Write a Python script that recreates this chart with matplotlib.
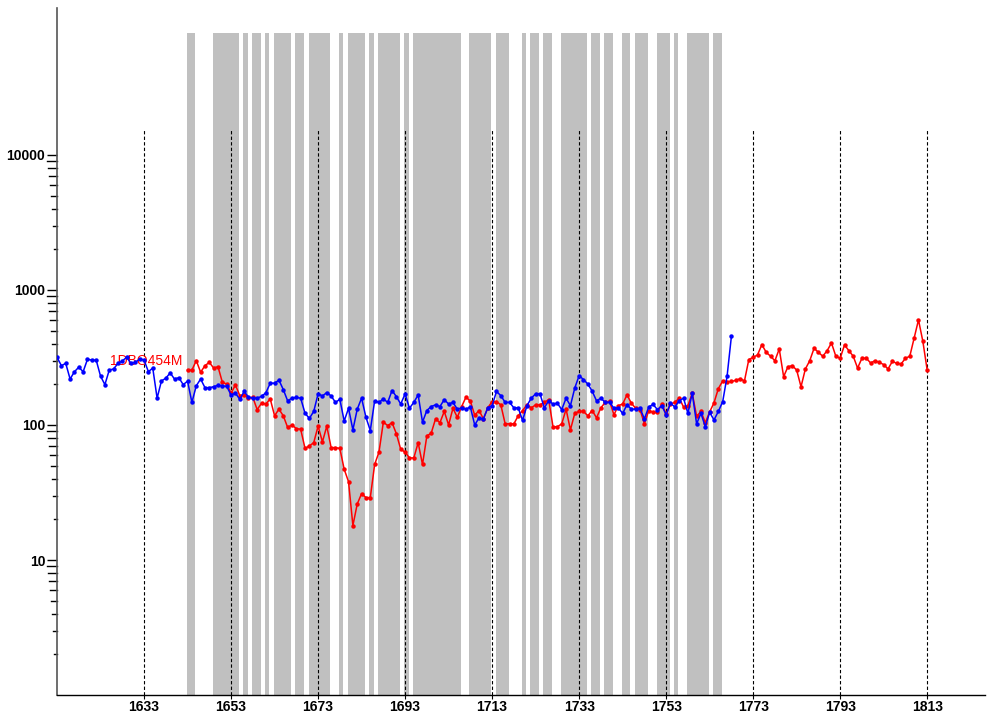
import numpy as np
import matplotlib
matplotlib.use("Agg")
import matplotlib.pyplot as plt

plt.rcParams['font.family'] = ['Liberation Sans', 'DejaVu Sans']

# blue series, one value per year from 1613
blue_start = 1613
blue_vals = [317, 275, 286, 219, 248, 268, 248, 307, 302, 302,
             230, 199, 255, 260, 286, 298, 317, 286, 291, 308,
             303, 248, 264, 158, 212, 222, 243, 219, 224, 199,
             211, 147, 195, 219, 189, 189, 192, 197, 195, 193,
             167, 172, 155, 177, 161, 158, 158, 163, 173, 204,
             204, 215, 183, 151, 158, 160, 158, 122, 112, 126,
             170, 164, 174, 164, 147, 155, 107, 133, 92, 131,
             158, 114, 91, 151, 147, 156, 147, 180, 162, 143,
             170, 133, 147, 167, 105, 128, 137, 141, 137, 154,
             143, 147, 131, 134, 131, 136, 100, 113, 111, 134,
             139, 177, 165, 147, 147, 134, 134, 108, 139, 158,
             170, 170, 134, 151, 143, 145, 130, 158, 139, 188,
             232, 217, 201, 178, 151, 158, 147, 147, 133, 134,
             122, 141, 131, 131, 133, 111, 136, 142, 130, 139,
             119, 145, 136, 151, 158, 122, 172, 102, 122, 97,
             124, 109, 126, 149, 229, 454]

# red series, one value per year from 1643
red_start = 1643
red_vals = [255, 255, 300, 246, 275, 291, 264, 270, 207, 201,
            172, 198, 165, 167, 159, 160, 130, 145, 143, 156,
            117, 131, 117, 96, 100, 94, 93, 67, 70, 74,
            98, 75, 98, 68, 68, 67, 47, 38, 18, 26,
            31, 29, 29, 51, 63, 105, 99, 104, 86, 66,
            63, 57, 57, 74, 51, 83, 87, 111, 104, 126,
            100, 133, 114, 137, 161, 150, 118, 128, 111, 134,
            149, 149, 141, 102, 102, 102, 117, 128, 141, 134,
            141, 141, 147, 154, 97, 97, 102, 131, 92, 122,
            126, 126, 117, 128, 113, 134, 147, 150, 119, 139,
            143, 167, 145, 133, 130, 102, 128, 124, 124, 143,
            121, 143, 147, 158, 136, 139, 172, 116, 126, 104,
            125, 146, 186, 212, 209, 210, 214, 220, 212, 305,
            317, 330, 394, 345, 323, 299, 366, 228, 270, 275,
            255, 192, 260, 299, 370, 345, 323, 355, 405, 323,
            312, 392, 355, 323, 264, 312, 312, 288, 299, 291,
            280, 260, 296, 286, 283, 312, 323, 439, 600, 417,
            255]

series_label = "1DBO454M"

# years marked by grey bands
marked_years = [1643, 1644, 1649, 1650, 1651, 1652, 1653, 1654, 1656, 1658,
                1659, 1661, 1663, 1664, 1665, 1666, 1668, 1669, 1671, 1672,
                1673, 1674, 1675, 1678, 1680, 1681, 1682, 1683, 1685, 1687,
                1688, 1689, 1690, 1691, 1693, 1695, 1696, 1697, 1698, 1699,
                1700, 1701, 1702, 1703, 1704, 1705, 1708, 1709, 1710, 1711,
                1712, 1714, 1715, 1716, 1720, 1722, 1723, 1725, 1726, 1729,
                1730, 1731, 1732, 1733, 1734, 1736, 1737, 1739, 1740, 1743,
                1744, 1746, 1747, 1748, 1751, 1752, 1753, 1755, 1758, 1759,
                1760, 1761, 1762, 1764, 1765]

x_ticks = [1633, 1653, 1673, 1693, 1713, 1733, 1753, 1773, 1793, 1813]
y_ticks = [10, 100, 1000, 10000]

blue_years = np.arange(blue_start, blue_start + len(blue_vals))
red_years = np.arange(red_start, red_start + len(red_vals))

fig = plt.figure(figsize=(9.92, 7.18), dpi=100)
ax = fig.add_axes([0.0575, 0.032, 0.9355, 0.957])

ymin, ymax = 1, 10 ** 5.089
ax.set_yscale('log')
ax.set_xlim(1613, 1826.3)
ax.set_ylim(ymin, ymax)

# grey bands
band_top = 10 ** 4.904
ax.bar(np.array(marked_years) - 0.2, band_top - ymin, width=1.0, bottom=ymin,
       align='edge', color='#c0c0c0', edgecolor='none', zorder=1)

# dashed year lines
ax.vlines(x_ticks, ymin, 10 ** 4.185, colors='black', linestyles=(0, (3, 2)),
          linewidth=0.8, zorder=2)

ax.text(1625.2, 300, series_label, color='red', fontsize=10,
        ha='left', va='center', zorder=2.5)

ax.plot(red_years, red_vals, color='#ff0000', lw=1.1, marker='o', ms=2.2,
        zorder=3)
ax.plot(blue_years, blue_vals, color='#0000ff', lw=1.1, marker='o', ms=2.2,
        zorder=4)

for s in ['top', 'right']:
    ax.spines[s].set_visible(False)
ax.spines['left'].set_color('#555555')
ax.spines['left'].set_linewidth(1.2)
ax.spines['bottom'].set_linewidth(1.0)

ax.set_xticks(x_ticks)
ax.set_xticklabels([str(t) for t in x_ticks], fontweight='bold', fontsize=10)
ax.tick_params(axis='x', direction='out', length=3, width=0.8, pad=0.5)

ax.set_yticks(y_ticks)
ax.set_yticklabels([str(t) for t in y_ticks], fontweight='bold', fontsize=10)
ax.yaxis.set_minor_locator(matplotlib.ticker.NullLocator())
ax.tick_params(axis='y', direction='out', length=7.5, width=1.0, pad=1)

# minor ticks grow with the multiplier
ax_w = 0.9355 * 992
ytr = ax.get_yaxis_transform()
for dec in [1, 10, 100, 1000]:
    for m in range(2, 10):
        ln = (m + 1) / ax_w
        ax.plot([-ln, 0], [dec * m, dec * m], color='black', lw=1.0,
                transform=ytr, clip_on=False)

fig.savefig('out.png', dpi=100)
